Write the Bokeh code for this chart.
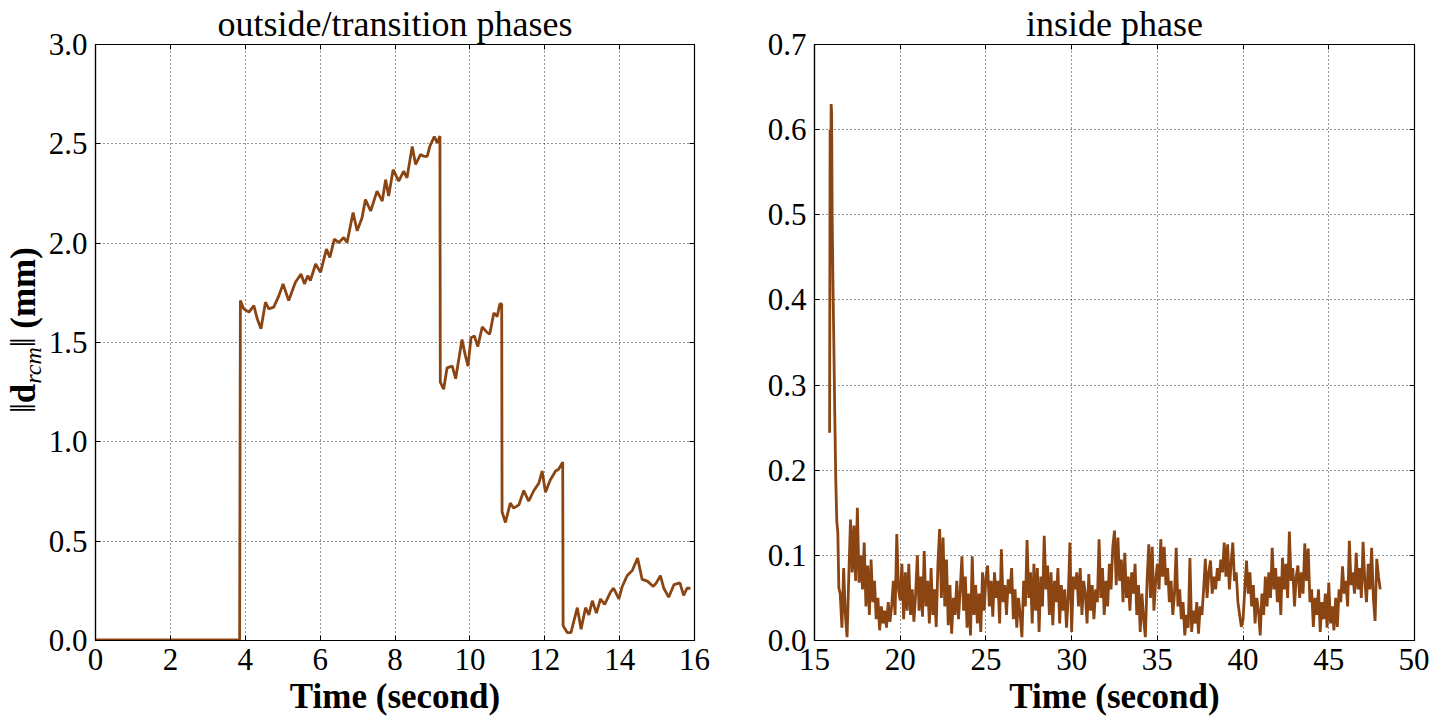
from bokeh.plotting import figure
from bokeh.layouts import row
from bokeh.models import FixedTicker, NumeralTickFormatter, Div, LinearAxis
from bokeh.embed import file_html
from bokeh.resources import INLINE

# ---------------- data ----------------
left_title = "outside/transition phases"
right_title = "inside phase"
x_label = "Time (second)"

left_xticks = [0, 2, 4, 6, 8, 10, 12, 14, 16]
left_yticks = [0.0, 0.5, 1.0, 1.5, 2.0, 2.5, 3.0]
right_xticks = [15, 20, 25, 30, 35, 40, 45, 50]
right_yticks = [0.0, 0.1, 0.2, 0.3, 0.4, 0.5, 0.6, 0.7]

left_time = [
    0.00, 3.85, 3.87, 3.96, 4.10, 4.23, 4.32, 4.42, 4.54, 4.63,
    4.76, 4.90, 5.01, 5.16, 5.34, 5.49, 5.58, 5.67, 5.74, 5.88,
    6.01, 6.17, 6.26, 6.38, 6.50, 6.63, 6.72, 6.88, 6.99, 7.12,
    7.21, 7.35, 7.52, 7.66, 7.75, 7.83, 7.95, 8.10, 8.23, 8.32,
    8.46, 8.55, 8.68, 8.77, 8.86, 8.93, 9.05, 9.13, 9.20, 9.21,
    9.30, 9.39, 9.53, 9.62, 9.79, 9.88, 9.95, 10.03, 10.12, 10.21,
    10.33, 10.46, 10.53, 10.64, 10.73, 10.80, 10.85, 10.86, 10.95, 11.08,
    11.17, 11.31, 11.44, 11.57, 11.71, 11.84, 11.93, 12.02, 12.15, 12.29,
    12.37, 12.48, 12.49, 12.60, 12.70, 12.87, 12.97, 13.09, 13.18, 13.27,
    13.38, 13.49, 13.60, 13.76, 13.84, 13.98, 14.07, 14.20, 14.34, 14.48,
    14.60, 14.74, 14.90, 14.98, 15.09, 15.18, 15.31, 15.45, 15.61, 15.71,
    15.80, 15.89,
]
left_dist = [
    0.003, 0.003, 1.711, 1.669, 1.653, 1.686, 1.619, 1.569, 1.703, 1.669,
    1.678, 1.736, 1.795, 1.711, 1.803, 1.845, 1.795, 1.836, 1.812, 1.895,
    1.853, 1.970, 1.928, 2.020, 2.003, 2.028, 2.003, 2.154, 2.062, 2.128,
    2.220, 2.162, 2.262, 2.212, 2.320, 2.237, 2.370, 2.312, 2.362, 2.329,
    2.487, 2.396, 2.446, 2.437, 2.437, 2.487, 2.537, 2.504, 2.540, 1.300,
    1.265, 1.372, 1.381, 1.318, 1.515, 1.434, 1.381, 1.524, 1.533, 1.479,
    1.578, 1.551, 1.542, 1.649, 1.631, 1.694, 1.694, 0.648, 0.594, 0.692,
    0.666, 0.683, 0.755, 0.701, 0.755, 0.791, 0.853, 0.746, 0.809, 0.853,
    0.862, 0.898, 0.075, 0.040, 0.040, 0.165, 0.057, 0.165, 0.129, 0.200,
    0.138, 0.209, 0.182, 0.245, 0.263, 0.209, 0.272, 0.326, 0.353, 0.415,
    0.308, 0.299, 0.272, 0.290, 0.326, 0.263, 0.218, 0.281, 0.290, 0.227,
    0.263, 0.263,
]

# start of inside phase (peak), explicit samples
spike_time = [15.88, 15.91, 15.94, 15.97, 16.00, 16.03, 16.07, 16.12,
              16.18, 16.24, 16.30, 16.36, 16.42]
spike_dist = [0.244, 0.600, 0.460, 0.630, 0.620, 0.500, 0.430, 0.360,
              0.270, 0.190, 0.140, 0.127, 0.062]

# steady part, sampled every 0.1 s starting at 16.5 s (one row per second)
steady_start = 16.5
steady_step = 0.1
steady_dist = [
    0.055, 0.015, 0.085, 0.030, 0.004, 0.075, 0.142, 0.080, 0.135, 0.070,
    0.156, 0.068, 0.100, 0.060, 0.115, 0.040, 0.088, 0.030, 0.095, 0.045,
    0.070, 0.025, 0.050, 0.012, 0.040, 0.020, 0.035, 0.015, 0.045, 0.022,
    0.040, 0.070, 0.030, 0.125, 0.060, 0.047, 0.090, 0.025, 0.080, 0.035,
    0.090, 0.030, 0.060, 0.022, 0.055, 0.100, 0.035, 0.075, 0.028, 0.105,
    0.040, 0.070, 0.020, 0.085, 0.030, 0.060, 0.016, 0.090, 0.131, 0.050,
    0.121, 0.040, 0.095, 0.018, 0.065, 0.008, 0.050, 0.030, 0.070, 0.025,
    0.060, 0.099, 0.035, 0.075, 0.015, 0.055, 0.006, 0.099, 0.030, 0.065,
    0.020, 0.055, 0.010, 0.080, 0.035, 0.075, 0.088, 0.040, 0.070, 0.028,
    0.080, 0.050, 0.070, 0.020, 0.107, 0.045, 0.065, 0.030, 0.072, 0.055,
    0.085, 0.025, 0.060, 0.015, 0.050, 0.030, 0.004, 0.070, 0.040, 0.118,
    0.050, 0.080, 0.020, 0.090, 0.035, 0.085, 0.010, 0.075, 0.040, 0.123,
    0.060, 0.088, 0.030, 0.080, 0.018, 0.070, 0.045, 0.085, 0.020, 0.065,
    0.035, 0.060, 0.015, 0.050, 0.115, 0.010, 0.075, 0.060, 0.080, 0.040,
    0.085, 0.030, 0.070, 0.055, 0.020, 0.078, 0.035, 0.065, 0.025, 0.060,
    0.045, 0.119, 0.050, 0.085, 0.030, 0.070, 0.040, 0.090, 0.060, 0.110,
    0.129, 0.065, 0.121, 0.070, 0.095, 0.045, 0.103, 0.050, 0.075, 0.035,
    0.080, 0.055, 0.090, 0.030, 0.065, 0.010, 0.055, 0.025, 0.004, 0.070,
    0.113, 0.050, 0.110, 0.035, 0.070, 0.090, 0.060, 0.119, 0.075, 0.110,
    0.065, 0.085, 0.045, 0.070, 0.030, 0.055, 0.109, 0.040, 0.060, 0.025,
    0.045, 0.006, 0.030, 0.015, 0.097, 0.010, 0.035, 0.020, 0.045, 0.008,
    0.040, 0.030, 0.060, 0.096, 0.050, 0.080, 0.094, 0.055, 0.075, 0.060,
    0.085, 0.070, 0.095, 0.080, 0.115, 0.075, 0.113, 0.060, 0.090, 0.115,
    0.070, 0.080, 0.045, 0.030, 0.016, 0.025, 0.060, 0.094, 0.055, 0.080,
    0.040, 0.065, 0.020, 0.050, 0.035, 0.006, 0.055, 0.030, 0.075, 0.040,
    0.080, 0.050, 0.109, 0.060, 0.085, 0.045, 0.075, 0.030, 0.097, 0.060,
    0.090, 0.050, 0.128, 0.070, 0.085, 0.040, 0.075, 0.088, 0.050, 0.080,
    0.055, 0.114, 0.070, 0.108, 0.045, 0.060, 0.016, 0.050, 0.030, 0.060,
    0.010, 0.045, 0.025, 0.055, 0.015, 0.068, 0.020, 0.040, 0.012, 0.050,
    0.016, 0.060, 0.045, 0.087, 0.055, 0.070, 0.040, 0.117, 0.065, 0.080,
    0.055, 0.103, 0.060, 0.085, 0.050, 0.116, 0.070, 0.045, 0.090, 0.060,
    0.109, 0.050, 0.023, 0.096, 0.075, 0.060,
]
steady_time = [round(steady_start + i * steady_step, 2) for i in range(len(steady_dist))]
right_time = spike_time + steady_time
right_dist = spike_dist + steady_dist

# ---------------- style ----------------
SERIF = "Liberation Serif"
BROWN = "#8B4513"
TICK_SIZE = "31px"
LABEL_SIZE = "35px"
TITLE_SIZE = "36px"
H = 724


def mirror_axis(p, ticks, side):
    ax = LinearAxis(ticker=FixedTicker(ticks=ticks))
    ax.major_label_overrides = {t: "" for t in ticks}
    ax.major_label_text_font_size = "0px"
    ax.major_label_standoff = 0
    ax.axis_line_color = None
    ax.major_tick_in = 5
    ax.major_tick_out = 0
    ax.major_tick_line_color = "black"
    ax.minor_tick_line_color = None
    p.add_layout(ax, side)


def style(p, xticks, yticks):
    p.xaxis.ticker = FixedTicker(ticks=xticks)
    p.yaxis.ticker = FixedTicker(ticks=yticks)
    p.yaxis.formatter = NumeralTickFormatter(format="0.0")
    for ax in (p.xaxis[0], p.yaxis[0]):
        ax.major_label_text_font = SERIF
        ax.major_label_text_font_size = TICK_SIZE
        ax.major_label_text_color = "black"
        ax.axis_line_color = "black"
        ax.axis_line_width = 1.2
        ax.major_tick_in = 5
        ax.major_tick_out = 0
        ax.major_tick_line_color = "black"
        ax.minor_tick_line_color = None
        ax.major_label_standoff = 8
    p.xaxis.axis_label = x_label
    p.xaxis.axis_label_text_font = SERIF
    p.xaxis.axis_label_text_font_size = LABEL_SIZE
    p.xaxis.axis_label_text_font_style = "bold"
    p.xaxis.axis_label_text_color = "black"
    p.xaxis.axis_label_standoff = 4
    p.grid.grid_line_color = "black"
    p.grid.grid_line_dash = "1 3"
    p.grid.grid_line_alpha = 0.85
    p.grid.grid_line_width = 1
    p.outline_line_color = "black"
    p.outline_line_width = 1.2
    p.outline_line_alpha = 1
    p.title.text_font = SERIF
    p.title.text_font_size = TITLE_SIZE
    p.title.text_font_style = "normal"
    p.title.text_color = "black"
    p.title.align = "center"
    p.title.standoff = 2
    p.background_fill_color = "white"
    p.border_fill_color = "white"
    mirror_axis(p, xticks, "above")
    mirror_axis(p, yticks, "right")


# rotated y-axis label ||d_rcm|| (mm) as real HTML text
ylabel_html = (
    '<div style="position:relative;width:45px;height:%dpx;">'
    '<div style="position:absolute;left:6px;top:413px;transform:rotate(-90deg);'
    'transform-origin:0 0;white-space:nowrap;font-family:\'Liberation Serif\';'
    'font-size:35px;line-height:1;color:black;">'
    '\u2016<b>d</b><i style="font-size:24px;position:relative;top:6px;">rcm</i>'
    '\u2016 <b>(mm)</b></div></div>' % H
)
ydiv = Div(text=ylabel_html, width=45, height=H, margin=(0, 0, 0, 0),
           styles={"overflow": "visible"})

left = figure(width=50 + 599 + 20, height=H, title=left_title,
              x_range=(0, 16), y_range=(0, 3.0),
              output_backend="svg", toolbar_location=None,
              min_border_left=50, min_border_right=20,
              min_border_top=41, min_border_bottom=84)
style(left, left_xticks, left_yticks)
left.line(left_time, left_dist, line_color=BROWN, line_width=2.8)

right = figure(width=100 + 600 + 15, height=H, title=right_title,
               x_range=(15, 50), y_range=(0, 0.7),
               output_backend="svg", toolbar_location=None,
               min_border_left=100, min_border_right=15,
               min_border_top=41, min_border_bottom=84)
style(right, right_xticks, right_yticks)
right.line(right_time, right_dist, line_color=BROWN, line_width=2.8)

layout = row(ydiv, left, right)
open("out.html", "w").write(file_html(layout, INLINE))
